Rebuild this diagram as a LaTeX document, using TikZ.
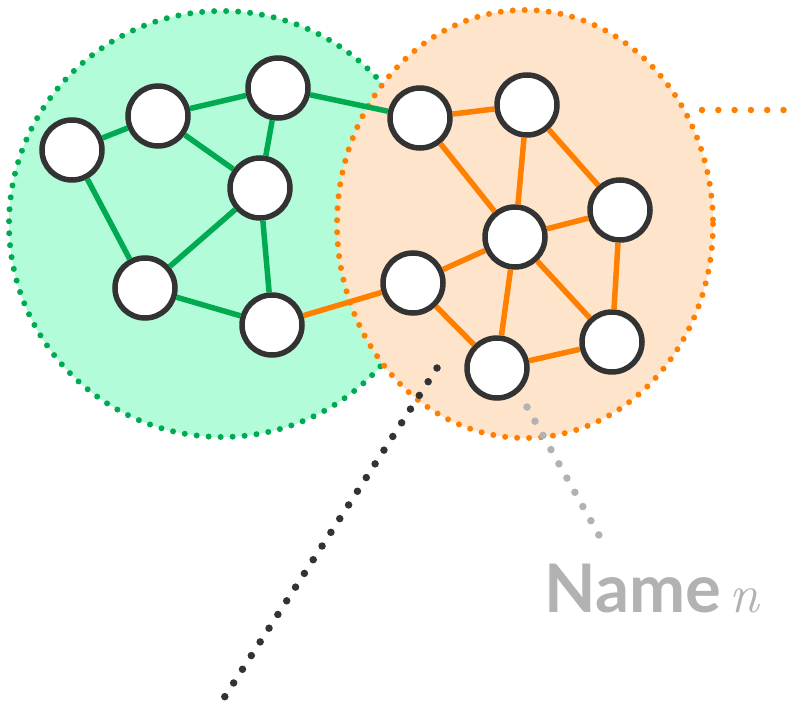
\documentclass[tikz,border=0pt]{standalone}
\usepackage{fontspec}
\usepackage{tikz}
\usetikzlibrary{calc}
\newfontfamily\labelfont{Lato}
\newfontfamily\varfont{Latin Modern Roman}
\definecolor{grpgreen}{RGB}{0,170,80}
\definecolor{grpgreenbg}{RGB}{179,252,217}
\definecolor{grporange}{RGB}{255,128,0}
\definecolor{grporangebg}{RGB}{255,228,204}
\definecolor{vertexgray}{RGB}{51,51,51}
\definecolor{labelgray}{RGB}{178,178,178}
\tikzset{
    vertex/.style={
        draw=vertexgray,
        circle,
        line width=5.5pt,
        fill=white,
        inner sep=0pt,
        minimum size=60pt
    },
    greenlink/.style={draw=grpgreen, line width=5.5pt},
    orangelink/.style={draw=grporange, line width=5.5pt},
    dotline/.style={
        line width=#1,
        line cap=round,
        dash pattern=on 0pt off 12pt
    },
    pointer/.style={
        line width=7.5pt,
        line cap=round,
        dash pattern=on 0pt off 16.3pt
    }
}

\begin{document}
\begin{tikzpicture}[x=1pt,y=-1pt]
        \useasboundingbox (0,0) rectangle (789,701);
        % the two groups
        \fill[grpgreenbg] (222,224) circle[radius=213];
        \draw[grpgreen, dotline=6pt] (222,224) circle[radius=213];
        \fill[grporangebg] (525,224) ellipse[x radius=188, y radius=214];
        \draw[grporange, dotline=6pt] (525,224) ellipse[x radius=188, y radius=214];

        % pointers
        \coordinate (gtop) at (437,368);
        \coordinate (gbot) at (222,701);
        \coordinate (otail) at (702,110);
        \coordinate (oend) at (789,110);
        \coordinate (ntop) at (527,407);
        \coordinate (nbot) at (600,537);
        \draw[vertexgray, pointer] (gtop) -- (gbot);
        \draw[grporange, pointer, line width=6.5pt] (otail) -- (oend);
        \draw[labelgray, pointer] (ntop) -- (nbot);

        % green vertices
        \node[vertex] (g1) at (72,150) {};
        \node[vertex] (g2) at (158,116) {};
        \node[vertex] (g3) at (278,88) {};
        \node[vertex] (g4) at (260,188) {};
        \node[vertex] (g5) at (145,288) {};
        \node[vertex] (g6) at (272,325) {};
        % orange vertices
        \node[vertex] (o1) at (420,118) {};
        \node[vertex] (o2) at (527,105) {};
        \node[vertex] (o3) at (620,210) {};
        \node[vertex] (o4) at (515,237) {};
        \node[vertex] (o5) at (413,283) {};
        \node[vertex] (o6) at (497,368) {};
        \node[vertex] (o7) at (612,342) {};

        \foreach \a/\b in {g1/g2, g2/g3, g2/g4, g3/g4, g1/g5, g5/g4, g4/g6, g5/g6, g3/o1}
            \draw[greenlink] (\a) -- (\b);
        \foreach \a/\b in {o1/o2, o1/o4, o2/o4, o2/o3, o4/o3, o3/o7, o4/o7, o4/o6, o4/o5, o5/o6, o6/o7, g6/o5}
            \draw[orangelink] (\a) -- (\b);

        \node[anchor=base west, inner sep=0pt, text=labelgray] (name) at (544,612)
            {\fontsize{67}{67}\selectfont\labelfont\bfseries Name\hspace{9pt}{\varfont\fontsize{54}{54}\selectfont\itshape\mdseries n}};
    \end{tikzpicture}
\end{document}
